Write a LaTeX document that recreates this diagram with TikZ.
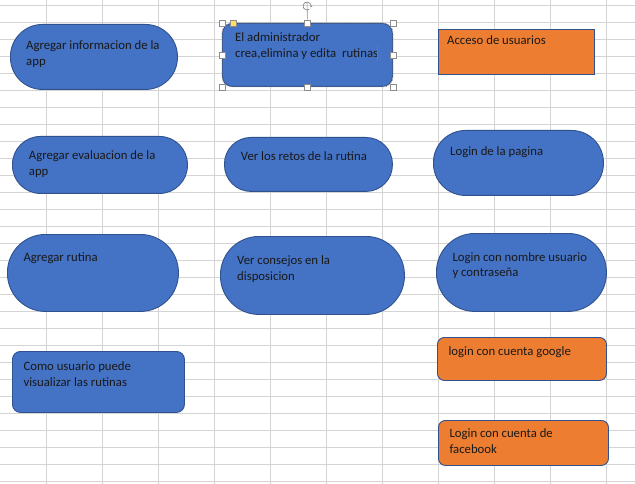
\documentclass[tikz,border=0pt]{standalone}
\usepackage{fontspec}
\setmainfont{Carlito}
\usetikzlibrary{arrows.meta}
\definecolor{gridgray}{HTML}{D4D4D4}
\definecolor{fillblue}{HTML}{4472C4}
\definecolor{edgeblue}{HTML}{2F528F}
\definecolor{fillorange}{HTML}{ED7D31}
\definecolor{handlegray}{HTML}{8C8C8C}
\definecolor{handleyellow}{HTML}{FFE066}
\tikzset{
 gridline/.style={draw=gridgray, line width=0.9pt},
 shapebox/.style={draw=edgeblue, line width=0.9pt, inner sep=0pt, anchor=north west},
 bluebox/.style={shapebox, fill=fillblue},
 orangebox/.style={shapebox, fill=fillorange},
 lbl/.style={anchor=base west, inner sep=0pt, align=left, font=\fontsize{12.75}{15.8}\selectfont, text=black!90},
 handle/.style={draw=handlegray, fill=white, minimum size=6pt, inner sep=0pt, line width=0.6pt},
 selline/.style={draw=handlegray, line width=0.7pt, dash pattern=on 1.5pt off 1.5pt},
}
\begin{document}
\begin{tikzpicture}[x=1pt,y=-1pt]
\useasboundingbox (0,0) rectangle (635,484);
\fill[white] (0,0) rectangle (635,484);
% spreadsheet grid
\foreach \k in {0,...,10} \draw[gridline] (46.7+56*\k,0) -- (46.7+56*\k,484);
\foreach \k in {0,...,28} \draw[gridline] (0,5+17.03*\k) -- (635,5+17.03*\k);

% column 1 (two-line labels are placed at the baseline of their last line)
\node[bluebox, minimum width=167pt, minimum height=65pt, rounded corners=32pt] (s1) at (10,24) {};
\node[lbl] (t1) at (26,65.8) {Agregar informacion de la\\app};
\node[bluebox, minimum width=175pt, minimum height=57pt, rounded corners=28pt] (s4) at (12,136) {};
\node[lbl] (t4) at (28.7,175.8) {Agregar evaluacion de la\\app};
\node[bluebox, minimum width=171pt, minimum height=77pt, rounded corners=38pt] (s7) at (7,234) {};
\node[lbl] (t7) at (23.3,261) {Agregar rutina};
\node[bluebox, minimum width=172pt, minimum height=61pt, rounded corners=8pt] (s10) at (12,351) {};
\node[lbl] (t10) at (23.3,386.5) {Como usuario puede\\visualizar las rutinas};

% column 2
\node[bluebox, minimum width=170pt, minimum height=63pt, rounded corners=10pt] (s2) at (222,23) {};
\node[lbl] (t2) at (235,57.5) {El administrador\\crea,elimina y edita~ rutinas};
\node[bluebox, minimum width=168pt, minimum height=54pt, rounded corners=26.5pt] (s5) at (224,137) {};
\node[lbl] (t5) at (240.7,160.7) {Ver los retos de la rutina};
\node[bluebox, minimum width=184pt, minimum height=78pt, rounded corners=38.5pt] (s8) at (220,236) {};
\node[lbl] (t8) at (237,280.1) {Ver consejos en la\\disposicion};

% column 3
\node[orangebox, minimum width=156pt, minimum height=45pt] (s3) at (438,29) {};
\node[lbl] (t3) at (447,45) {Acceso de usuarios};
\node[bluebox, minimum width=170pt, minimum height=65pt, rounded corners=32pt] (s6) at (433,130) {};
\node[lbl] (t6) at (450,156) {Login de la pagina};
\node[bluebox, minimum width=170pt, minimum height=78pt, rounded corners=38.5pt] (s9) at (436,233) {};
\node[lbl] (t9) at (452.3,276.8) {Login con nombre usuario\\y contraseña};
\node[orangebox, minimum width=169pt, minimum height=43pt, rounded corners=7pt] (s11) at (437,337) {};
\node[lbl] (t11) at (448.3,355) {login con cuenta google};
\node[orangebox, minimum width=170pt, minimum height=45pt, rounded corners=7pt] (s12) at (438,420) {};
\node[lbl] (t12) at (449.3,453.5) {Login con cuenta de\\facebook};

% selection of shape s2
\draw[selline, rounded corners=10pt] (s2.north west) rectangle (s2.south east);
\draw[fillorange!80!black, line width=0.6pt] (377.7,46) -- (377.7,61);
\coordinate (rot) at (307,6);
\node[handle] (h1) at (s2.north west) {};
\node[handle] (h2) at (s2.north) {};
\node[handle] (h3) at (s2.north east) {};
\node[handle] (h4) at (s2.west) {};
\node[handle] (h5) at (s2.east) {};
\node[handle] (h6) at (s2.south west) {};
\node[handle] (h7) at (s2.south) {};
\node[handle] (h8) at (s2.south east) {};
\node[handle, fill=handleyellow] (hy) at (233,23) {};
\draw[handlegray, line width=0.6pt] (h2.north) -- ([yshift=4pt]rot);
\draw[handlegray, line width=0.7pt, -{Stealth[length=2pt,width=2.5pt]}] (rot) ++(60:4) arc (60:380:4);
\end{tikzpicture}
\end{document}
